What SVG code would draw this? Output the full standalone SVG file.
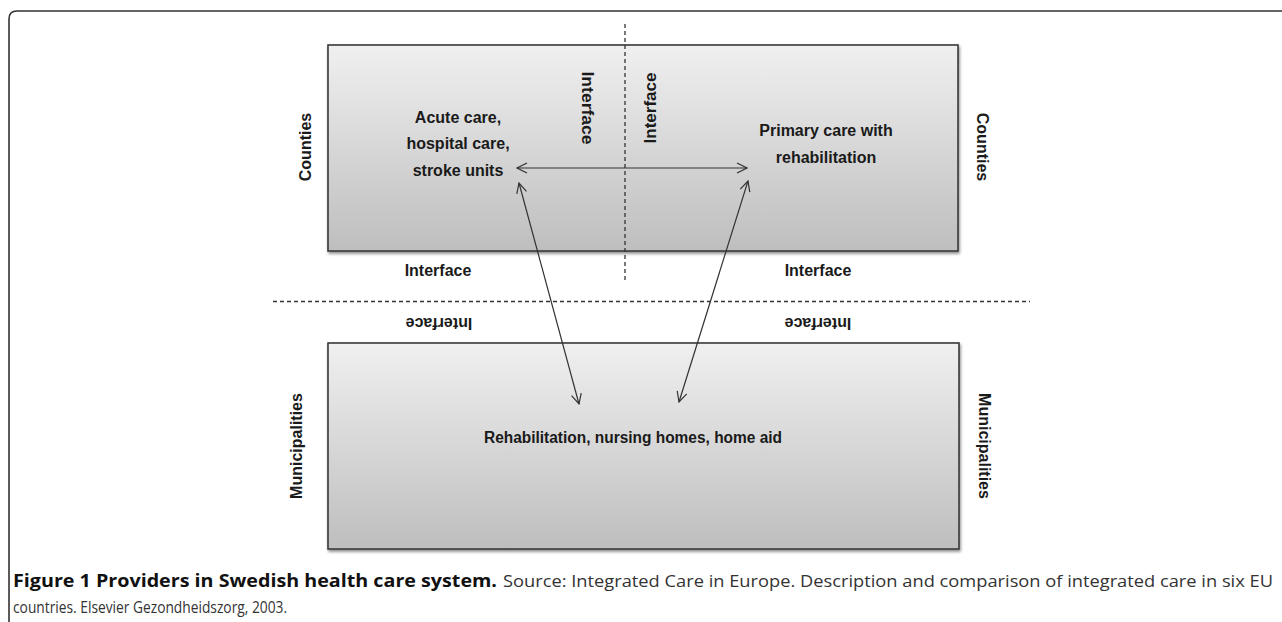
<svg xmlns="http://www.w3.org/2000/svg" width="1282" height="622" viewBox="0 0 1282 622">
<style>
.lbl{font-family:"Liberation Sans",Arial,sans-serif;font-weight:bold;font-size:16px;fill:#1a1a1a}
.cap{font-family:"Open Sans","Liberation Sans",sans-serif;font-size:17px}
.box{stroke:#3a3a3a;stroke-width:1.6;fill:url(#g)}
.dash{stroke:#333;stroke-width:1.3;stroke-dasharray:4 3;fill:none}
.arr{stroke:#333;stroke-width:1.2;fill:none;marker-start:url(#ah);marker-end:url(#ah)}
</style>
<defs>
<linearGradient id="g" x1="0" y1="0" x2="0" y2="1">
<stop offset="0" stop-color="#f0f0f0"/>
<stop offset="1" stop-color="#bebebe"/>
</linearGradient>
<filter id="sh" x="-5%" y="-5%" width="110%" height="115%">
<feGaussianBlur in="SourceAlpha" stdDeviation="1.5"/>
<feOffset dx="1" dy="2" result="b"/>
<feComponentTransfer><feFuncA type="linear" slope="0.45"/></feComponentTransfer>
<feMerge><feMergeNode/><feMergeNode in="SourceGraphic"/></feMerge>
</filter>
<marker id="ah" viewBox="0 0 12 12" refX="11" refY="6" markerWidth="12" markerHeight="12" markerUnits="userSpaceOnUse" orient="auto-start-reverse">
<path d="M1,1 L11,6 L1,11" fill="none" stroke="#333" stroke-width="1.2"/>
</marker>
</defs>
<rect width="1282" height="622" fill="#fff"/>
<path d="M9,622 L9,19 Q9,11 17,11 L1282,11" fill="none" stroke="#333" stroke-width="1.6"/>

<g id="counties-box">
<rect class="box" x="328" y="45" width="630" height="206" filter="url(#sh)"/>
<text class="lbl" text-anchor="middle"><tspan x="458" y="123">Acute care,</tspan><tspan x="458" y="149">hospital care,</tspan><tspan x="458" y="176">stroke units</tspan></text>
<text class="lbl" text-anchor="middle"><tspan x="826" y="136">Primary care with</tspan><tspan x="826" y="163">rehabilitation</tspan></text>
</g>

<g id="municipalities-box">
<rect class="box" x="328" y="343" width="631" height="206" filter="url(#sh)"/>
<text class="lbl" x="633" y="443" text-anchor="middle" textLength="298" lengthAdjust="spacingAndGlyphs">Rehabilitation, nursing homes, home aid</text>
</g>

<g id="side-labels">
<text class="lbl" text-anchor="middle" transform="translate(311,147) rotate(-90)">Counties</text>
<text class="lbl" text-anchor="middle" transform="translate(977,147) rotate(90)">Counties</text>
<text class="lbl" text-anchor="middle" transform="translate(302,446) rotate(-90)">Municipalities</text>
<text class="lbl" text-anchor="middle" transform="translate(979,446) rotate(90)">Municipalities</text>
</g>

<g id="interface-labels">
<text class="lbl" text-anchor="middle" transform="translate(582,108) rotate(90)" textLength="73" lengthAdjust="spacingAndGlyphs">Interface</text>
<text class="lbl" text-anchor="middle" transform="translate(656,108) rotate(-90)" textLength="71" lengthAdjust="spacingAndGlyphs">Interface</text>
<text class="lbl" x="438" y="276" text-anchor="middle">Interface</text>
<text class="lbl" x="818" y="276" text-anchor="middle">Interface</text>
<text class="lbl" text-anchor="middle" transform="translate(439,323) rotate(180)" y="5.5">Interface</text>
<text class="lbl" text-anchor="middle" transform="translate(818,323) rotate(180)" y="5.5">Interface</text>
</g>

<g id="connectors">
<line class="dash" x1="625" y1="24" x2="625" y2="281"/>
<line class="dash" x1="273" y1="301.5" x2="1030" y2="301.5"/>
<line class="arr" x1="517" y1="168" x2="747" y2="168"/>
<line class="arr" x1="519" y1="183" x2="579" y2="404"/>
<line class="arr" x1="748" y1="181" x2="679" y2="402"/>
</g>

<g id="caption">
<text class="cap" x="13" y="587" font-weight="bold" fill="#111" textLength="484" lengthAdjust="spacingAndGlyphs">Figure 1 Providers in Swedish health care system.</text>
<text class="cap" x="503" y="587" fill="#333" textLength="770" lengthAdjust="spacingAndGlyphs">Source: Integrated Care in Europe. Description and comparison of integrated care in six EU</text>
<text class="cap" x="13" y="613" fill="#333" textLength="274" lengthAdjust="spacingAndGlyphs">countries. Elsevier Gezondheidszorg, 2003.</text>
</g>
</svg>
